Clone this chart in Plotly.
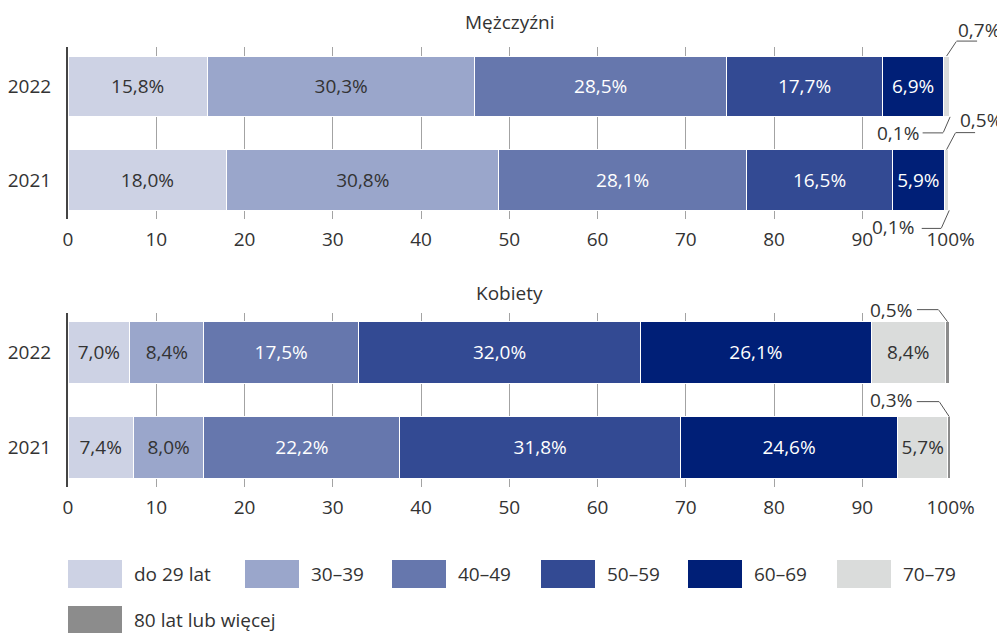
import plotly.graph_objects as go

# ---------------- data ----------------
years = ["2022", "2021"]
groups = ["do 29 lat", "30–39", "40–49", "50–59", "60–69", "70–79", "80 lat lub więcej"]
men_2022 = [15.8, 30.3, 28.5, 17.7, 6.9, 0.7, 0.1]
men_2021 = [18.0, 30.8, 28.1, 16.5, 5.9, 0.5, 0.1]
women_2022 = [7.0, 8.4, 17.5, 32.0, 26.1, 8.4, 0.5]
women_2021 = [7.4, 8.0, 22.2, 31.8, 24.6, 5.7, 0.3]
panel_titles = ["Mężczyźni", "Kobiety"]
x_ticks = [0, 10, 20, 30, 40, 50, 60, 70, 80, 90, 100]
x_tick_labels = ["0", "10", "20", "30", "40", "50", "60", "70", "80", "90", "100%"]

# ---------------- style ----------------
colors = ["#cdd2e4", "#9aa6cb", "#6677ad", "#334a93", "#001f77", "#dadcdb", "#8c8c8c"]
text_colors = ["#333333", "#333333", "#ffffff", "#ffffff", "#ffffff", "#333333", "#333333"]
FONT = "Open Sans"
FS = 19
OFF = 8  # page body margin
W, H = 1005 - OFF, 633 - OFF
PL_REF, PR_REF = 68, 951  # plot area left/right (page px)


def py(p):
    return 1 - (p - OFF) / H


def px(p):
    return (p - PL_REF) / (PR_REF - PL_REF)


def fmt(v):
    return f"{v:.1f}".replace(".", ",") + "%"


panels = [
    dict(xa="x", ya="y", d2022=men_2022, d2021=men_2021, dom=[py(219.3), py(47.2)]),
    dict(xa="x2", ya="y2", d2022=women_2022, d2021=women_2021, dom=[py(487.4), py(312.6)]),
]

fig = go.Figure()
for p in panels:
    for i, g in enumerate(groups):
        vals = [p["d2022"][i], p["d2021"][i]]
        fig.add_trace(go.Bar(
            y=years, x=vals, orientation="h", name=g,
            marker=dict(color=colors[i], line=dict(color="white", width=1)),
            text=[fmt(v) if v >= 2 else "" for v in vals],
            textposition="inside", insidetextanchor="middle", textangle=0,
            textfont=dict(color=text_colors[i], size=FS, family=FONT),
            width=0.65, showlegend=False, hoverinfo="skip",
            xaxis=p["xa"], yaxis=p["ya"],
        ))

axis_common_x = dict(
    range=[0, 100.05], tickvals=x_ticks, ticktext=x_tick_labels, showgrid=True,
    gridcolor="#a3a3a3", gridwidth=1, zeroline=False, ticks="", showline=False,
    tickfont=dict(size=FS, color="#333333", family=FONT), ticklabelstandoff=7,
    fixedrange=True, domain=[0, 1],
)
axis_common_y = dict(
    categoryorder="array", categoryarray=["2021", "2022"], range=[-0.42, 1.42],
    showline=True, linecolor="#444444", linewidth=2, ticks="", showgrid=False,
    zeroline=False, tickfont=dict(size=FS, color="#333333", family=FONT),
    ticklabelstandoff=11, fixedrange=True,
)

fig.update_layout(
    xaxis=dict(axis_common_x, anchor="y"),
    yaxis=dict(axis_common_y, anchor="x", domain=panels[0]["dom"]),
    xaxis2=dict(axis_common_x, anchor="y2"),
    yaxis2=dict(axis_common_y, anchor="x2", domain=panels[1]["dom"]),
)

annotations = []
# panel titles
for title, yy in zip(panel_titles, [py(22), py(293)]):
    annotations.append(dict(text=title, x=0.5, y=yy, xref="paper", yref="paper",
                            showarrow=False, font=dict(size=FS, color="#333333", family=FONT),
                            xanchor="center", yanchor="middle"))

# leader-line labels for the small slices
# (panel, year, group index, edge, dx, dy, horiz, text xshift, text yshift, xanchor)
leaders = [
    (0, "2022", 5, "top", 10, -15, 21, 32, 26, "center"),
    (0, "2022", 6, "bottom", -7, 16, -21, -29, -16, "right"),
    (0, "2021", 5, "top", 9, -17, 20, 34, 30, "center"),
    (0, "2021", 6, "bottom", -8, 18, -20, -33, -17, "right"),
    (1, "2022", 6, "top", -9, -12, -22, -33, 12, "right"),
    (1, "2021", 6, "top", -10, -15, -23, -35, 17, "right"),
]
year_index = {"2021": 0, "2022": 1}
for pi, yr, gi, edge, dx, dy, hz, tx, ty, xanc in leaders:
    p = panels[pi]
    data = p["d2022"] if yr == "2022" else p["d2021"]
    xa = sum(data[:gi]) + data[gi] / 2
    ya = year_index[yr] + (0.325 if edge == "top" else -0.325)
    common = dict(x=xa, y=ya, xref=p["xa"], yref=p["ya"])
    line_style = dict(showarrow=True, arrowhead=0, arrowwidth=1, arrowcolor="#555555",
                      text="", font=dict(size=1), borderpad=0, standoff=0, startstandoff=0)
    annotations.append(dict(common, ax=dx, ay=dy, **line_style))
    annotations.append(dict(common, xshift=dx, yshift=-dy, ax=hz, ay=0, **line_style))
    annotations.append(dict(common, text=fmt(data[gi]), showarrow=False, xshift=tx, yshift=ty,
                            xanchor=xanc, yanchor="middle",
                            font=dict(size=FS, color="#333333", family=FONT)))

# legend (manual, with large swatches)
legend_pos = [(68, 574), (245, 574), (392, 574), (541, 574), (688, 574), (837, 574), (68, 620)]
shapes = []
for (sx, sy), g, c in zip(legend_pos, groups, colors):
    shapes.append(dict(type="rect", xref="paper", yref="paper",
                       x0=px(sx), x1=px(sx + 54), y0=py(sy + 14), y1=py(sy - 14),
                       fillcolor=c, line=dict(width=0)))
    annotations.append(dict(text=g, x=px(sx + 64), y=py(sy), xref="paper", yref="paper",
                            showarrow=False, xanchor="left", yanchor="middle",
                            font=dict(size=FS, color="#333333", family=FONT)))

fig.update_layout(
    annotations=annotations, shapes=shapes,
    barmode="stack", bargap=0.35,
    width=W, height=H,
    margin=dict(l=PL_REF - OFF, r=1005 - PR_REF, t=0, b=0, autoexpand=False),
    paper_bgcolor="white", plot_bgcolor="white",
    font=dict(family=FONT, size=FS, color="#333333"),
    showlegend=False,
)

fig.write_html("out.html")
